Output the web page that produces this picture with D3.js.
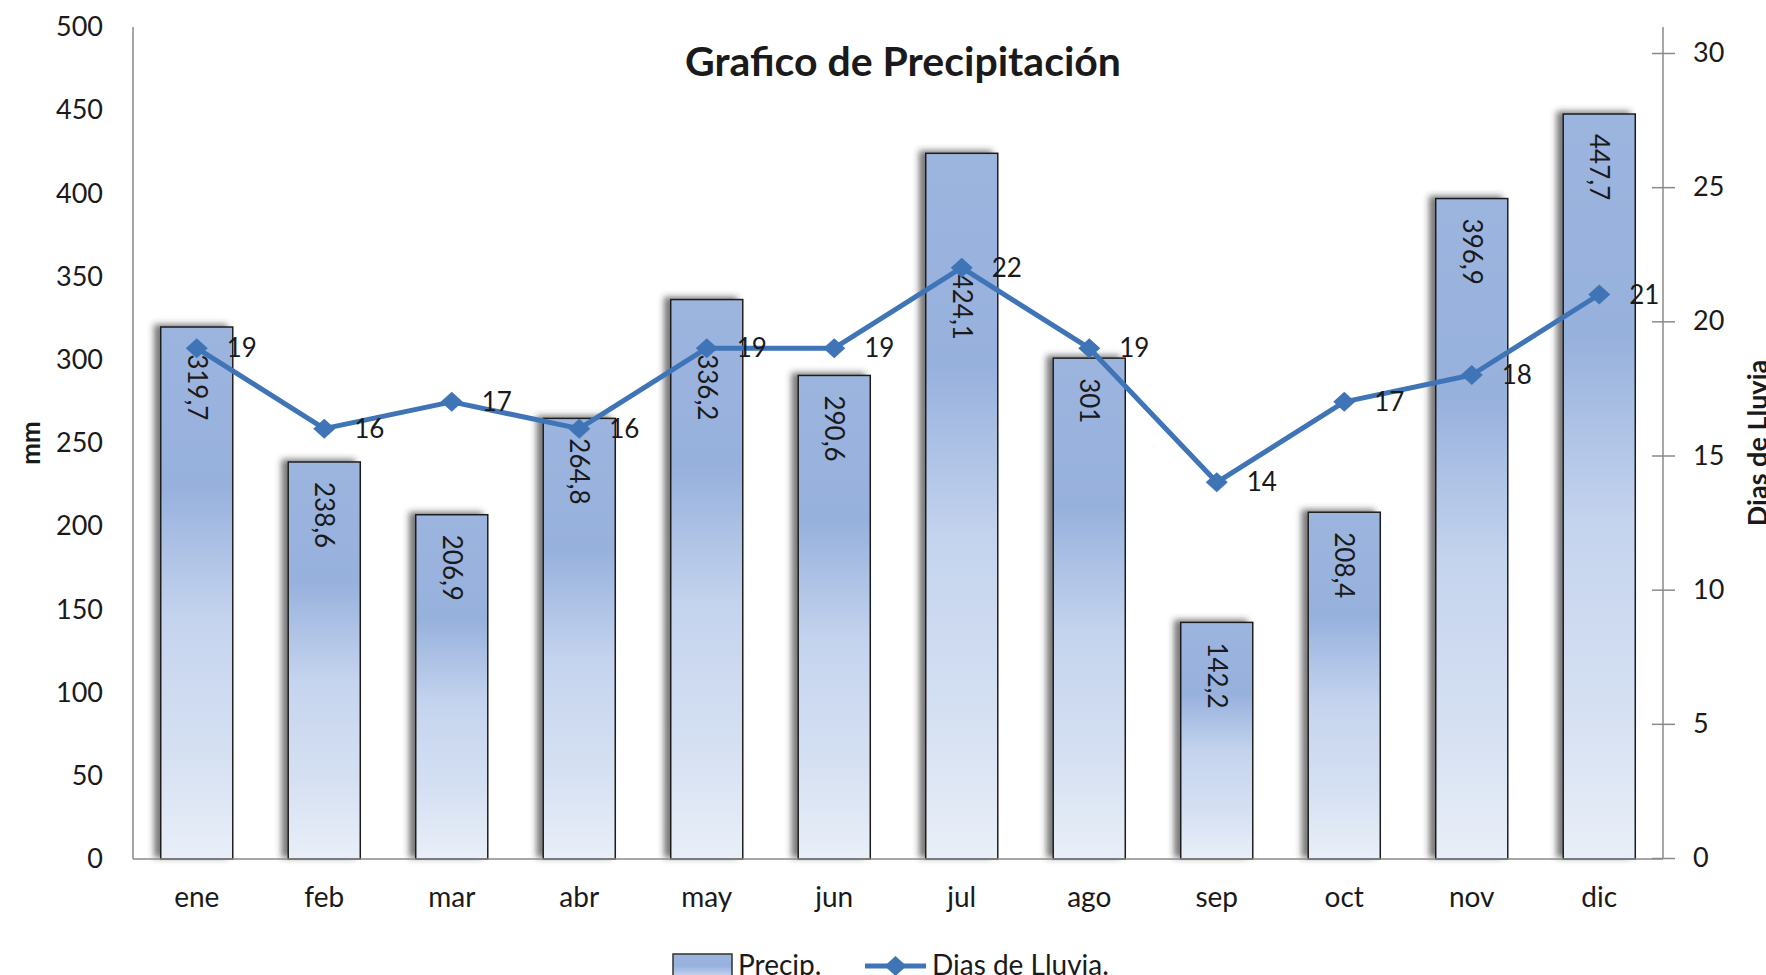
<!doctype html>
<html>
  <head>
    <meta charset="utf-8">
    <script src="https://cdnjs.cloudflare.com/ajax/libs/d3/7.8.5/d3.min.js"></script>
    <style>
      body { margin: 0; background: #fff; }
      text { font-family: Lato, "Open Sans", sans-serif; fill: #1a1a1a; }
    </style>
  </head>
  <body>
    <svg></svg>
    <script>
      var width = 1766,
          height = 975;

      // datos
      var meses = ["ene", "feb", "mar", "abr", "may", "jun", "jul", "ago", "sep", "oct", "nov", "dic"];
      var precip = [319.7, 238.6, 206.9, 264.8, 336.2, 290.6, 424.1, 301, 142.2, 208.4, 396.9, 447.7];
      var diasLluvia = [19, 16, 17, 16, 19, 19, 22, 19, 14, 17, 18, 21];
      var ticksMm = [0, 50, 100, 150, 200, 250, 300, 350, 400, 450, 500];
      var ticksDias = [0, 5, 10, 15, 20, 25, 30];

      var plotL = 133, plotR = 1663, plotT = 27, plotB = 859;
      var lineColor = "#3f74b7";

      var svg = d3.select("svg").attr("width", width).attr("height", height);
      var defs = svg.append("defs");

      var grad = defs.append("linearGradient").attr("id", "barGrad")
          .attr("x1", 0).attr("y1", 0).attr("x2", 0).attr("y2", 1);
      [[0, "#9cb5df"], [0.3, "#97b1dd"], [0.55, "#c5d4ee"], [0.8, "#d5e0f2"], [1, "#e9eff8"]]
        .forEach(function(s) { grad.append("stop").attr("offset", s[0]).attr("stop-color", s[1]); });

      var shadow = defs.append("filter").attr("id", "shadow")
          .attr("x", "-30%").attr("y", "-10%").attr("width", "160%").attr("height", "120%");
      shadow.append("feDropShadow").attr("dx", -6).attr("dy", -2).attr("stdDeviation", 3)
          .attr("flood-color", "#333").attr("flood-opacity", 0.65);

      var x = d3.scaleBand().domain(meses).range([plotL, plotR]).paddingInner(0.435).paddingOuter(0.2175);
      var yMm = d3.scaleLinear().domain([0, 500]).range([plotB, plotT]);
      var yDias = d3.scaleLinear().domain([0, 30]).range([plotB - 1, 53]);

      // barras
      svg.append("g").selectAll("rect").data(precip).enter().append("rect")
          .attr("x", function(d, i) { return x(meses[i]); })
          .attr("y", function(d) { return yMm(d); })
          .attr("width", x.bandwidth())
          .attr("height", function(d) { return plotB - yMm(d); })
          .attr("fill", "url(#barGrad)")
          .attr("stroke", "#1e1e1e")
          .attr("stroke-width", 1.5)
          .attr("filter", "url(#shadow)");

      // ejes
      var axisLeft = svg.append("g").attr("transform", "translate(" + plotL + ",0)")
          .call(d3.axisLeft(yMm).tickValues(ticksMm).tickSize(0).tickPadding(30));
      var axisRight = svg.append("g").attr("transform", "translate(" + plotR + ",0)")
          .call(d3.axisRight(yDias).tickValues(ticksDias).tickSize(0).tickPadding(30));
      axisRight.selectAll(".tick").append("line")
          .attr("x1", -11).attr("x2", 12).attr("stroke", "#8a8a8a").attr("stroke-width", 1.5);
      var axisBottom = svg.append("g").attr("transform", "translate(0," + plotB + ")")
          .call(d3.axisBottom(x).tickSize(0).tickPadding(40));

      [axisLeft, axisRight, axisBottom].forEach(function(a) {
        a.select(".domain").remove();
        a.selectAll("text").attr("font-size", 27).attr("fill", "#222")
          .style("font-family", "Lato, 'Open Sans', sans-serif");
      });
      axisBottom.selectAll("text").attr("dy", "0.3em").attr("font-size", 28);

      svg.append("line").attr("x1", plotL).attr("x2", plotL).attr("y1", plotT).attr("y2", plotB)
          .attr("stroke", "#8a8a8a").attr("stroke-width", 1.5);
      svg.append("line").attr("x1", plotR).attr("x2", plotR).attr("y1", plotT).attr("y2", plotB)
          .attr("stroke", "#8a8a8a").attr("stroke-width", 1.5);
      svg.append("line").attr("x1", plotL).attr("x2", plotR).attr("y1", plotB).attr("y2", plotB)
          .attr("stroke", "#8a8a8a").attr("stroke-width", 1.5);

      // etiquetas de barras
      function fmt(v) { return String(v).replace(".", ","); }
      svg.append("g").selectAll("text").data(precip).enter().append("text")
          .attr("transform", function(d, i) {
            var cx = x(meses[i]) + x.bandwidth() / 2;
            var ty = yMm(d) + 20;
            var my = yDias(diasLluvia[i]);
            if (my > yMm(d) - 5 && my < yMm(d) + 130) ty = Math.max(ty, my + 6);
            return "translate(" + cx + "," + ty + ") rotate(90)";
          })
          .attr("dy", "0.35em")
          .attr("font-size", 26)
          .text(fmt);

      // linea de dias
      var cxOf = function(i) { return x(meses[i]) + x.bandwidth() / 2; };
      svg.append("path").datum(diasLluvia)
          .attr("d", d3.line().x(function(d, i) { return cxOf(i); }).y(function(d) { return yDias(d); }))
          .attr("fill", "none").attr("stroke", lineColor).attr("stroke-width", 5)
          .attr("stroke-linejoin", "round");

      function diamond(cx, cy) {
        return "M" + (cx - 11) + "," + cy + "L" + cx + "," + (cy - 10) + "L" + (cx + 11) + "," + cy + "L" + cx + "," + (cy + 10) + "Z";
      }
      svg.append("g").selectAll("path").data(diasLluvia).enter().append("path")
          .attr("d", function(d, i) { return diamond(cxOf(i), yDias(d)); })
          .attr("fill", lineColor);

      svg.append("g").selectAll("text").data(diasLluvia).enter().append("text")
          .attr("x", function(d, i) { return cxOf(i) + 30; })
          .attr("y", function(d) { return yDias(d); })
          .attr("dy", "0.35em")
          .attr("font-size", 26)
          .text(function(d) { return d; });

      // titulos
      svg.append("text").attr("x", 903).attr("y", 76).attr("text-anchor", "middle")
          .attr("font-size", 41).attr("font-weight", "bold")
          .text("Grafico de Precipitación");
      svg.append("text").attr("transform", "translate(40," + (plotT + plotB) / 2 + ") rotate(-90)")
          .attr("text-anchor", "middle").attr("font-size", 26).attr("font-weight", "bold")
          .text("mm");
      svg.append("text").attr("transform", "translate(1767," + (plotT + plotB) / 2 + ") rotate(-90)")
          .attr("text-anchor", "middle").attr("font-size", 27).attr("font-weight", "bold")
          .text("Dias de Lluvia");

      // leyenda
      var leg = svg.append("g");
      leg.append("rect").attr("x", 673).attr("y", 954).attr("width", 59).attr("height", 40)
          .attr("fill", "url(#barGrad)").attr("stroke", "#333").attr("stroke-width", 1.5);
      leg.append("text").attr("x", 738).attr("y", 975).attr("font-size", 28).text("Precip.");
      leg.append("line").attr("x1", 865).attr("x2", 926).attr("y1", 966).attr("y2", 966)
          .attr("stroke", lineColor).attr("stroke-width", 5);
      leg.append("path").attr("d", diamond(895.5, 966)).attr("fill", lineColor);
      leg.append("text").attr("x", 932).attr("y", 975).attr("font-size", 28).text("Dias de Lluvia.");
    </script>
  </body>
</html>
